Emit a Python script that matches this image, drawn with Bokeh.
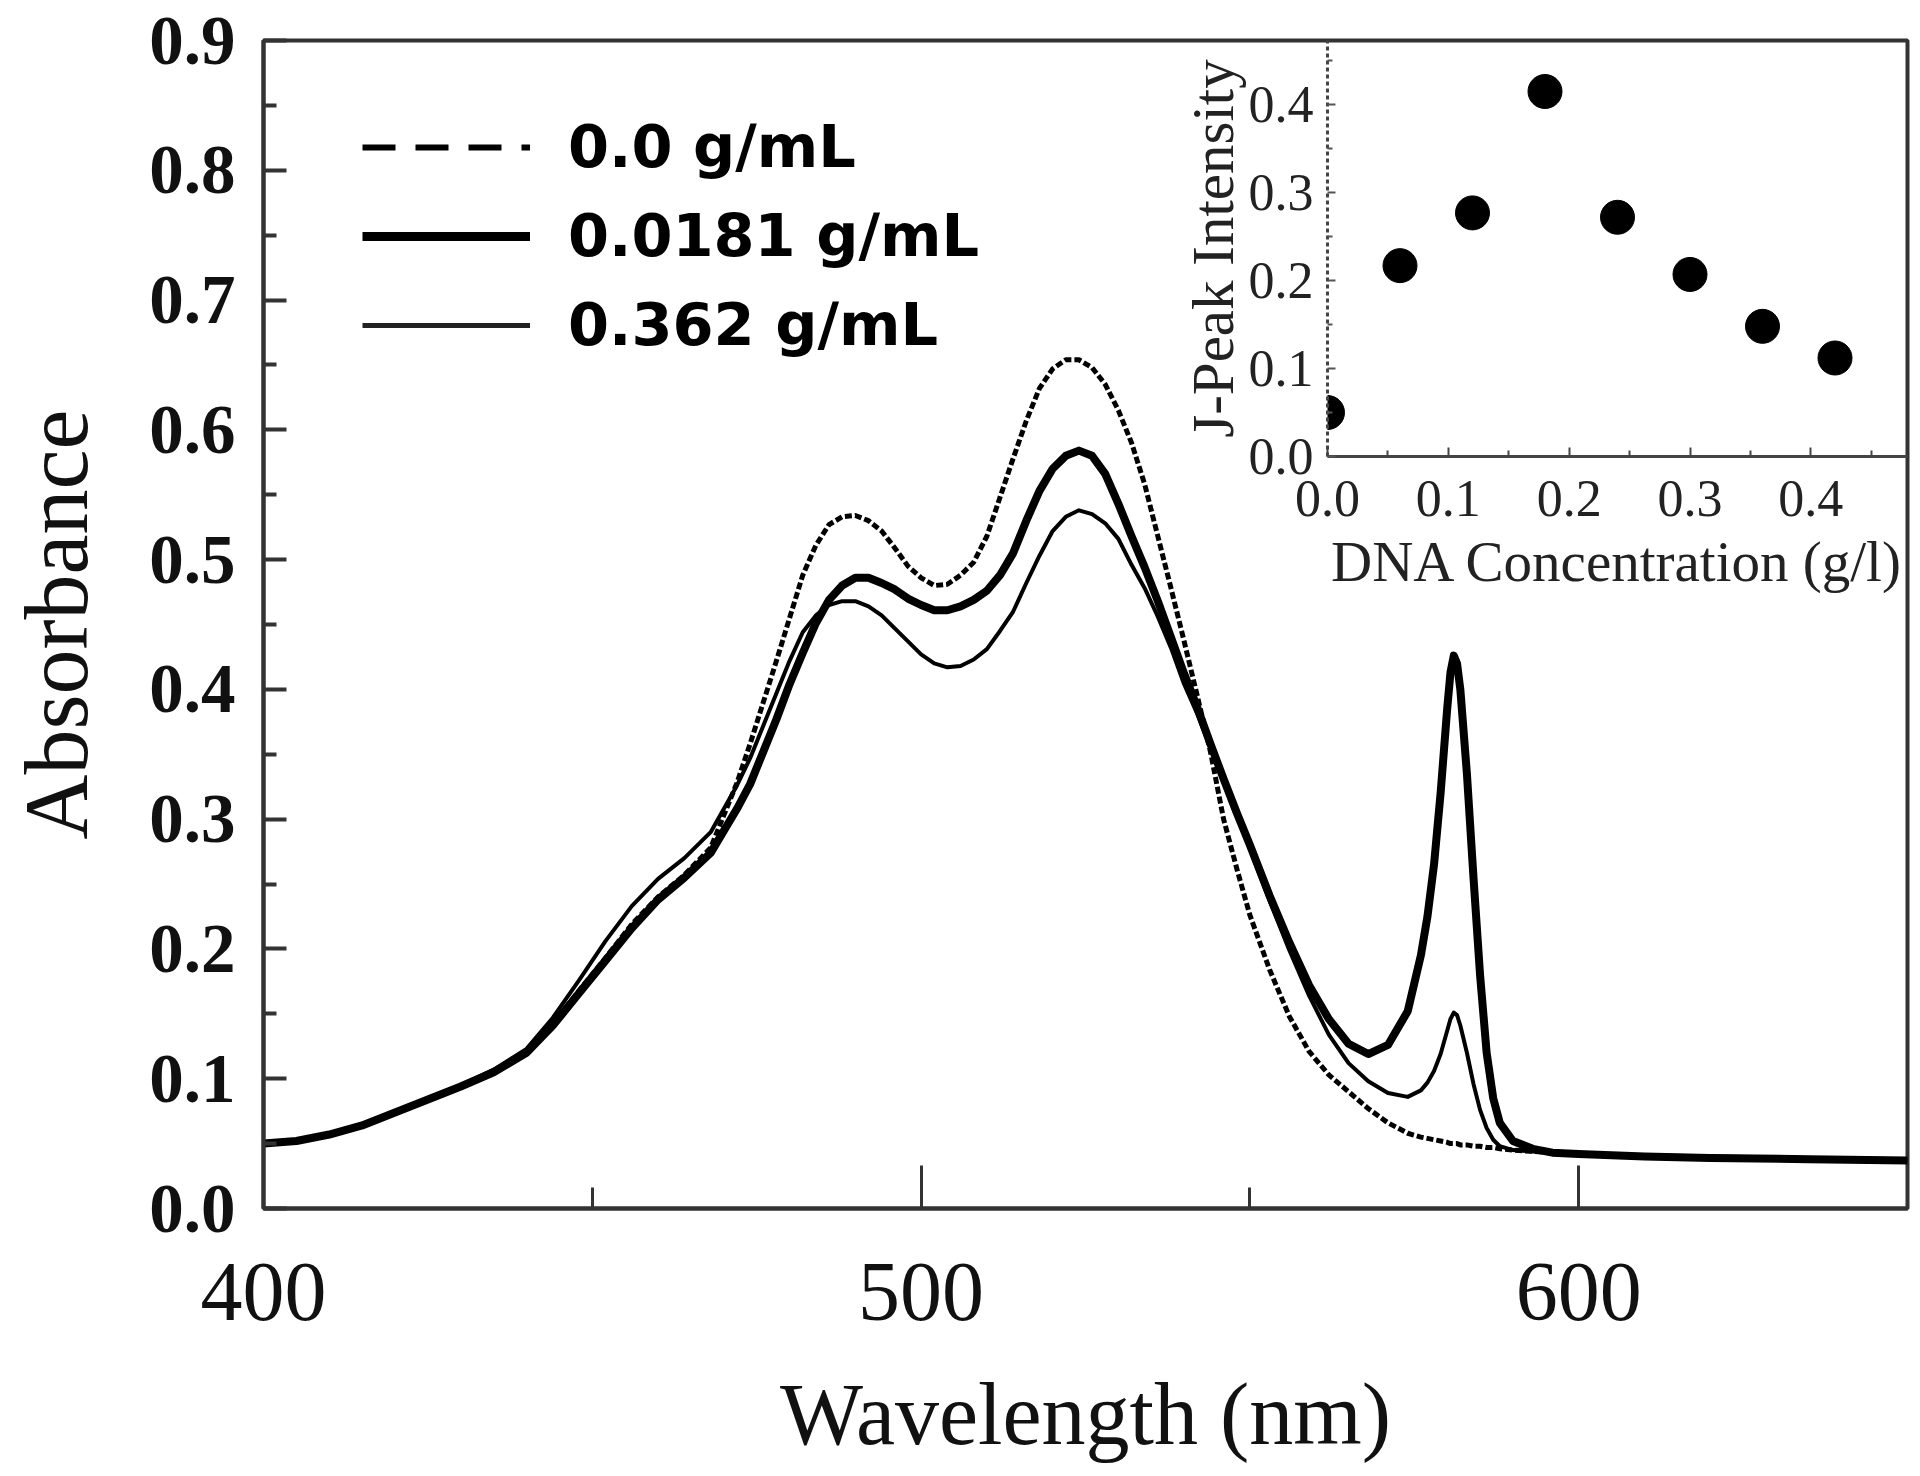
import numpy as np
from bokeh.plotting import figure
from bokeh.models import (Range1d, FixedTicker, Legend, LegendItem, ColumnDataSource,
                          PrintfTickFormatter)
from bokeh.layouts import column
from bokeh.embed import file_html
from bokeh.resources import INLINE

# ---------------- data ----------------
wavelength = [400, 405, 410, 415, 420, 425, 430, 435, 440, 444, 448, 452, 456, 460, 464, 468,
              472, 474, 476, 478, 480, 482, 484, 486, 488, 490, 492, 494, 496, 498, 500, 502,
              504, 506, 508, 510, 512, 514, 516, 518, 520, 522, 524, 526, 528, 530, 532, 534,
              536, 538, 540, 542, 544, 546, 548, 550, 553, 556, 559, 562, 565, 568, 571, 574,
              576, 577, 578, 579, 580, 580.5, 581, 581.5, 582, 583, 584, 585, 586, 587, 588,
              590, 593, 596, 600, 610, 620, 635, 650]

abs_0_0 = [0.050, 0.052, 0.057, 0.064, 0.074, 0.084, 0.094, 0.105, 0.120, 0.142, 0.168, 0.193,
           0.219, 0.240, 0.257, 0.278, 0.328, 0.358, 0.390, 0.422, 0.455, 0.488, 0.511, 0.527,
           0.533, 0.534, 0.530, 0.522, 0.509, 0.495, 0.486, 0.480, 0.481, 0.488, 0.498, 0.518,
           0.548, 0.578, 0.607, 0.632, 0.647, 0.654, 0.654, 0.648, 0.635, 0.615, 0.590, 0.558,
           0.518, 0.478, 0.437, 0.395, 0.352, 0.300, 0.262, 0.226, 0.184, 0.148, 0.121, 0.103,
           0.090, 0.077, 0.066, 0.058, 0.055, 0.054, 0.053, 0.052, 0.051, 0.050, 0.050, 0.050,
           0.049, 0.049, 0.048, 0.048, 0.047, 0.047, 0.046, 0.045, 0.044, 0.043, 0.042, 0.040,
           0.039, 0.038, 0.037]

abs_0_0181 = [0.050, 0.052, 0.057, 0.064, 0.074, 0.084, 0.094, 0.105, 0.120, 0.141, 0.166, 0.191,
              0.216, 0.238, 0.255, 0.274, 0.308, 0.327, 0.352, 0.377, 0.404, 0.428, 0.451, 0.469,
              0.480, 0.486, 0.486, 0.482, 0.477, 0.470, 0.465, 0.461, 0.461, 0.464, 0.469, 0.476,
              0.488, 0.505, 0.530, 0.553, 0.570, 0.580, 0.584, 0.580, 0.566, 0.543, 0.518, 0.494,
              0.468, 0.440, 0.412, 0.386, 0.358, 0.331, 0.305, 0.280, 0.241, 0.205, 0.172, 0.146,
              0.127, 0.119, 0.126, 0.152, 0.195, 0.225, 0.265, 0.320, 0.385, 0.413, 0.426, 0.420,
              0.400, 0.335, 0.255, 0.180, 0.120, 0.085, 0.066, 0.052, 0.046, 0.043, 0.042, 0.040,
              0.039, 0.038, 0.037]

abs_0_362 = [0.050, 0.052, 0.057, 0.064, 0.074, 0.085, 0.095, 0.107, 0.123, 0.147, 0.176, 0.206,
             0.233, 0.254, 0.270, 0.290, 0.326, 0.347, 0.372, 0.397, 0.422, 0.444, 0.457, 0.465,
             0.468, 0.468, 0.464, 0.457, 0.447, 0.437, 0.427, 0.420, 0.417, 0.418, 0.423, 0.431,
             0.445, 0.460, 0.482, 0.503, 0.522, 0.533, 0.538, 0.535, 0.528, 0.516, 0.496, 0.478,
             0.456, 0.432, 0.404, 0.381, 0.355, 0.329, 0.303, 0.277, 0.237, 0.199, 0.164, 0.134,
             0.112, 0.098, 0.089, 0.086, 0.091, 0.097, 0.106, 0.119, 0.137, 0.146, 0.151, 0.149,
             0.141, 0.120, 0.096, 0.076, 0.062, 0.053, 0.048, 0.045, 0.044, 0.043, 0.042, 0.041,
             0.040, 0.039, 0.038]

legend_labels = ["0.0 g/mL", "0.0181 g/mL", "0.362 g/mL"]

dna_conc = [0.0, 0.06, 0.12, 0.18, 0.24, 0.30, 0.36, 0.42]
j_peak = [0.050, 0.217, 0.277, 0.415, 0.272, 0.207, 0.148, 0.112]

x_major_ticks = [400, 500, 600]
x_minor_ticks = [450, 550, 650]
y_major_ticks = [0.0, 0.1, 0.2, 0.3, 0.4, 0.5, 0.6, 0.7, 0.8, 0.9]
y_minor_ticks = [0.05, 0.15, 0.25, 0.35, 0.45, 0.55, 0.65, 0.75, 0.85]
inset_x_ticks = [0.0, 0.1, 0.2, 0.3, 0.4]
inset_x_minor = [0.05, 0.15, 0.25, 0.35, 0.45]
inset_y_ticks = [0.0, 0.1, 0.2, 0.3, 0.4]
inset_y_minor = [0.05, 0.15, 0.25, 0.35, 0.45]

SERIF = "Liberation Serif"
AXC = "#333333"

# layout geometry (pixels on the page)
LEFT_BORDER = 263
RIGHT_BORDER = 9
TOP_BORDER = 40

# ---------------- main figure ----------------
p = figure(width=1916, height=1472, x_range=Range1d(400, 650), y_range=Range1d(0, 0.9),
           output_backend="svg", toolbar_location=None,
           min_border_left=LEFT_BORDER, min_border_right=RIGHT_BORDER,
           min_border_top=TOP_BORDER, min_border_bottom=264,
           background_fill_color="white", border_fill_color="white")
p.grid.visible = False
p.outline_line_color = AXC
p.outline_line_width = 4

xa = p.xaxis[0]
xa.ticker = FixedTicker(ticks=x_major_ticks, minor_ticks=x_minor_ticks)
xa.axis_label = "Wavelength (nm)"
xa.axis_label_text_font = SERIF
xa.axis_label_text_font_style = "normal"
xa.axis_label_text_font_size = "88px"
xa.axis_label_text_color = "#111111"
xa.axis_label_standoff = 43
xa.major_label_text_font = SERIF
xa.major_label_text_font_size = "84px"
xa.major_label_text_color = "#111111"
xa.major_label_standoff = 55
xa.axis_line_color = AXC
xa.axis_line_width = 4
xa.major_tick_in = 43
xa.major_tick_out = 0
xa.minor_tick_in = 21
xa.minor_tick_out = 0
xa.major_tick_line_color = AXC
xa.minor_tick_line_color = AXC
xa.major_tick_line_width = 3
xa.minor_tick_line_width = 3

ya = p.yaxis[0]
ya.ticker = FixedTicker(ticks=y_major_ticks, minor_ticks=y_minor_ticks)
ya.formatter = PrintfTickFormatter(format="%.1f")
ya.axis_label = "Absorbance"
ya.axis_label_text_font = SERIF
ya.axis_label_text_font_style = "normal"
ya.axis_label_text_font_size = "90px"
ya.axis_label_text_color = "#111111"
ya.axis_label_standoff = 40
ya.major_label_text_font = SERIF
ya.major_label_text_font_style = "bold"
ya.major_label_text_font_size = "69px"
ya.major_label_text_color = "#111111"
ya.major_label_standoff = 28
ya.axis_line_color = AXC
ya.axis_line_width = 4
ya.major_tick_in = 23
ya.major_tick_out = 0
ya.minor_tick_in = 13
ya.minor_tick_out = 0
ya.major_tick_line_color = AXC
ya.minor_tick_line_color = AXC
ya.major_tick_line_width = 4
ya.minor_tick_line_width = 4

src = ColumnDataSource(dict(wl=wavelength, a0=abs_0_0, a1=abs_0_0181, a2=abs_0_362))
p.line("wl", "a0", source=src, line_color="black", line_width=5, line_dash="7 3",
       line_join="round")
p.line("wl", "a2", source=src, line_color="black", line_width=4, line_join="round")
p.line("wl", "a1", source=src, line_color="black", line_width=8, line_join="round")

# legend samples (styled as in the original legend; their data is NaN so nothing is drawn)
leg_src = ColumnDataSource(dict(x=np.array([np.nan]), y=np.array([np.nan])))
r0 = p.line("x", "y", source=leg_src, line_color="black", line_width=6, line_dash="33 20")
r1 = p.line("x", "y", source=leg_src, line_color="black", line_width=9)
r2 = p.line("x", "y", source=leg_src, line_color="#222222", line_width=5)
legend = Legend(items=[LegendItem(label=legend_labels[0], renderers=[r0]),
                       LegendItem(label=legend_labels[1], renderers=[r1]),
                       LegendItem(label=legend_labels[2], renderers=[r2])],
                location=(99, 849), orientation="vertical",
                glyph_width=168, glyph_height=40, label_standoff=38, spacing=20,
                padding=0, margin=0, border_line_alpha=0, background_fill_alpha=0,
                label_text_font="DejaVu Sans", label_text_font_style="bold",
                label_text_font_size="59px", label_text_color="black")
p.add_layout(legend)

# ---------------- inset ----------------
INSET_FRAME_LEFT = 1327
ins_w = LEFT_BORDER + (1907 - INSET_FRAME_LEFT) + RIGHT_BORDER
ins_frame_h = 1208 - 752 - TOP_BORDER   # inset frame bottom sits at page y 456
ins = figure(width=ins_w, height=10 + ins_frame_h + 140,
             x_range=Range1d(0, 0.48), y_range=Range1d(0, 0.473),
             output_backend="svg", toolbar_location=None,
             min_border_left=LEFT_BORDER, min_border_right=RIGHT_BORDER,
             min_border_top=10, min_border_bottom=140,
             background_fill_alpha=0, border_fill_alpha=0)
ins.grid.visible = False
ins.outline_line_alpha = 0
ins.styles = {"position": "absolute",
              "left": f"{INSET_FRAME_LEFT - LEFT_BORDER}px",
              "top": f"{TOP_BORDER - 10}px",
              "z-index": "5"}

for fig in (p, ins):
    if "frame_align" in fig.properties():
        fig.frame_align = False

ins.scatter(dna_conc, j_peak, marker="circle", size=34, fill_color="black", line_color="black")

ixa = ins.xaxis[0]
ixa.ticker = FixedTicker(ticks=inset_x_ticks, minor_ticks=inset_x_minor)
ixa.formatter = PrintfTickFormatter(format="%.1f")
ixa.axis_label = "DNA Concentration (g/l)"
ixa.axis_label_text_font = SERIF
ixa.axis_label_text_font_style = "normal"
ixa.axis_label_text_font_size = "57px"
ixa.axis_label_text_color = "#222222"
ixa.axis_label_standoff = 11
ixa.major_label_text_font = SERIF
ixa.major_label_text_font_size = "52px"
ixa.major_label_text_color = "#222222"
ixa.major_label_standoff = 24
ixa.axis_line_color = "#444444"
ixa.axis_line_width = 3
ixa.major_tick_in = 9
ixa.major_tick_out = 0
ixa.minor_tick_in = 6
ixa.minor_tick_out = 0
ixa.major_tick_line_color = "#444444"
ixa.minor_tick_line_color = "#444444"
ixa.major_tick_line_width = 2
ixa.minor_tick_line_width = 2

iya = ins.yaxis[0]
iya.ticker = FixedTicker(ticks=inset_y_ticks, minor_ticks=inset_y_minor)
iya.formatter = PrintfTickFormatter(format="%.1f")
iya.axis_label = "J-Peak Intensity"
iya.axis_label_text_font = SERIF
iya.axis_label_text_font_style = "normal"
iya.axis_label_text_font_size = "59px"
iya.axis_label_text_color = "#222222"
iya.axis_label_standoff = 0
iya.major_label_text_font = SERIF
iya.major_label_text_font_size = "52px"
iya.major_label_text_color = "#222222"
iya.major_label_standoff = 14
iya.axis_line_color = "#444444"
iya.axis_line_width = 3
iya.axis_line_dash = "4 3"
iya.major_tick_in = 8
iya.major_tick_out = 0
iya.minor_tick_in = 5
iya.minor_tick_out = 0
iya.major_tick_line_color = "#555555"
iya.minor_tick_line_color = "#555555"
iya.major_tick_line_width = 2
iya.minor_tick_line_width = 2

root = column(p, ins, styles={"position": "relative"})

open("out.html", "w").write(file_html(root, INLINE))
